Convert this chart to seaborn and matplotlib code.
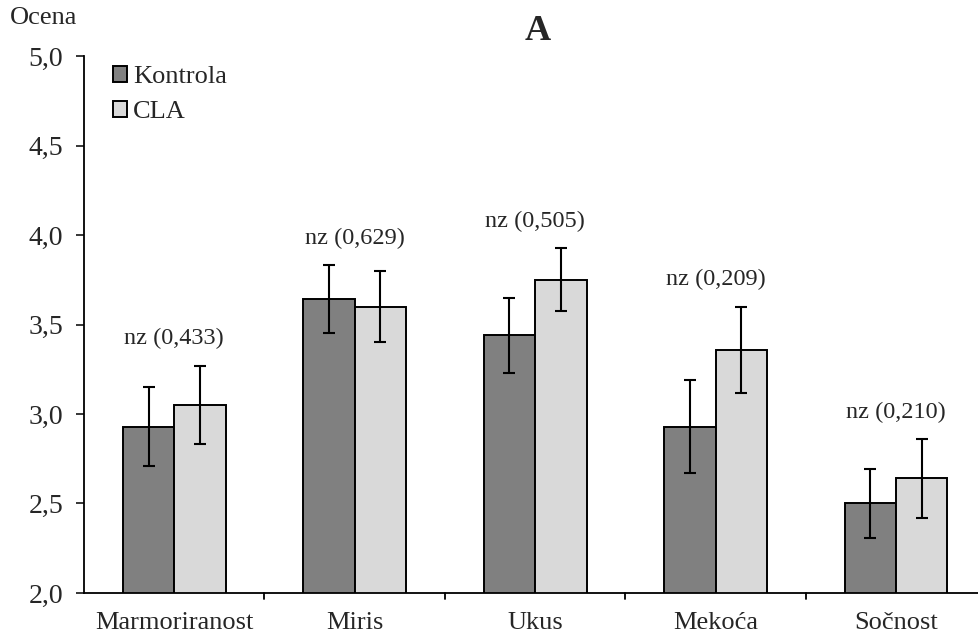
import matplotlib
matplotlib.use("Agg")
import matplotlib.pyplot as plt
import seaborn as sns
import pandas as pd
import numpy as np

categories = ["Marmoriranost", "Miris", "Ukus", "Mekoća", "Sočnost"]
groups = ["Kontrola", "CLA"]
kontrola = [2.93, 3.64, 3.44, 2.93, 2.50]
kontrola_err = [0.22, 0.19, 0.21, 0.26, 0.19]
cla = [3.05, 3.60, 3.75, 3.36, 2.64]
cla_err = [0.22, 0.20, 0.175, 0.24, 0.22]
p_labels = ["nz (0,433)", "nz (0,629)", "nz (0,505)", "nz (0,209)", "nz (0,210)"]
yticks = [2.0, 2.5, 3.0, 3.5, 4.0, 4.5, 5.0]
ytick_labels = ["2,0", "2,5", "3,0", "3,5", "4,0", "4,5", "5,0"]

df = pd.DataFrame({
    "Kategorija": categories * 2,
    "Grupa": [groups[0]] * 5 + [groups[1]] * 5,
    "Ocena": kontrola + cla,
})

sns.set_style("white")
plt.rcParams["font.family"] = ["Liberation Serif", "DejaVu Serif"]

fig = plt.figure(figsize=(9.79, 6.41), dpi=100)
ax = fig.add_axes([0.0858, 0.0749, 1 - 0.0858, 0.9126 - 0.0749])

sns.barplot(data=df, x="Kategorija", y="Ocena", hue="Grupa", order=categories,
            hue_order=groups, palette=["#808080", "#D9D9D9"], width=0.57,
            edgecolor="black", linewidth=1.4, errorbar=None, ax=ax, gap=0)

errs = [kontrola_err, cla_err]
vals = [kontrola, cla]
for cont, v, e in zip(ax.containers, vals, errs):
    xs = [b.get_x() + b.get_width() / 2 for b in cont]
    ax.errorbar(xs, v, yerr=e, fmt="none", ecolor="black", elinewidth=1.5,
                capsize=4, capthick=1.5, zorder=5)

for i, lab in enumerate(p_labels):
    top = max(kontrola[i] + kontrola_err[i], cla[i] + cla_err[i])
    ax.text(i, top + 0.15, lab, ha="center", va="center", fontsize=17.5)

ax.set_ylim(2.0, 5.0)
ax.set_xlim(-0.5, 4.46)
ax.set_yticks(yticks)
ax.set_yticklabels(ytick_labels, fontsize=20)
ax.set_xticks(range(len(categories)))
ax.set_xticklabels(categories, fontsize=19)
ax.tick_params(axis="x", length=0, pad=14)
ax.tick_params(axis="y", length=6, width=1.3, direction="out", left=True, pad=9)
for x in np.arange(0.5, 4.5, 1.0):
    ax.plot([x, x], [0, -0.012], transform=ax.get_xaxis_transform(),
            color="black", lw=1.3, clip_on=False)
ax.set_xlabel("")
ax.set_ylabel("")
for s in ["top", "right"]:
    ax.spines[s].set_visible(False)
for s in ["left", "bottom"]:
    ax.spines[s].set_color("black")
    ax.spines[s].set_linewidth(1.3)

leg = ax.legend(loc="upper left", bbox_to_anchor=(0.0144, 1.011), frameon=False,
                fontsize=19, handlelength=0.55, handleheight=0.55,
                handletextpad=0.22, labelspacing=0.47, borderaxespad=0.2)

fig.text(538 / 979, 1 - 32 / 641, "A", fontsize=26, fontweight="bold",
         ha="center", va="center")
fig.text(0.0102, 1 - 18 / 641, "Ocena", fontsize=19, ha="left", va="center")

fig.savefig("out.png", dpi=100)
